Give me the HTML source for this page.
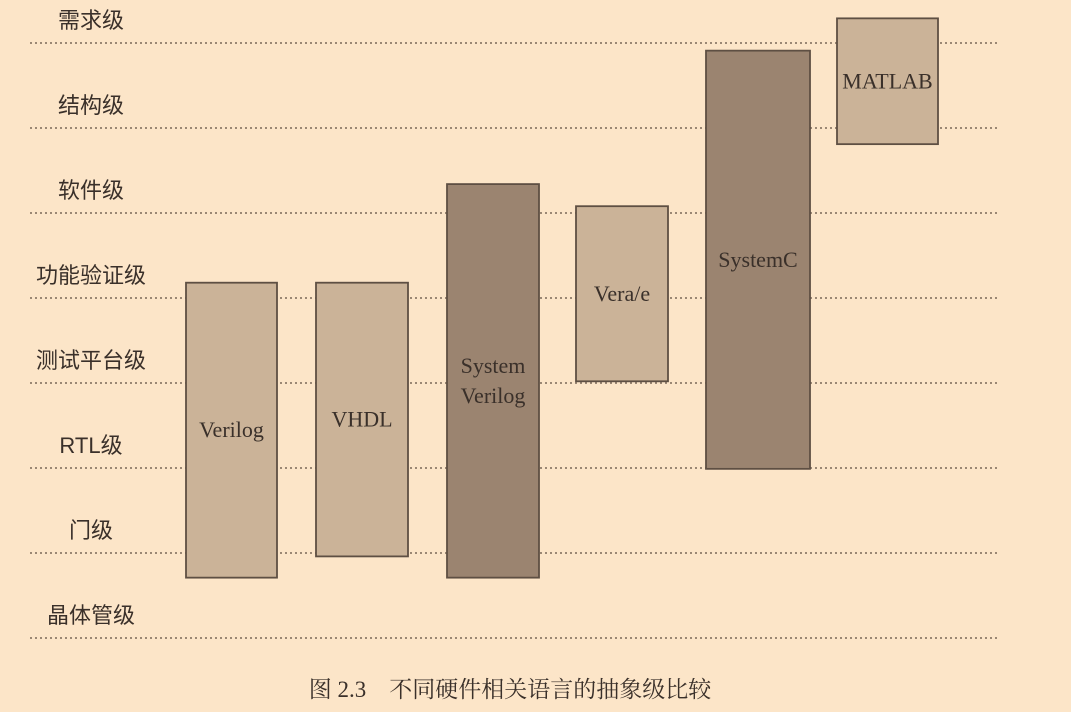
<!DOCTYPE html>
<html><head><meta charset="utf-8"><style>
body{margin:0;background:#fce5c8;}
svg{display:block}
text{font-family:"Liberation Serif","Noto Serif CJK SC",serif;fill:#3a302a}
</style></head><body>
<svg id="chart" width="1071" height="712" viewBox="0 0 1071 712">
<rect width="1071" height="712" fill="#fce5c8"/>
<g id="grid"></g><g id="bars"></g>
<text x="510" y="697" font-size="23" text-anchor="middle">图 2.3　不同硬件相关语言的抽象级比较</text>
</svg>
<script>
const levels=["需求级","结构级","软件级","功能验证级","测试平台级","RTL级","门级","晶体管级"];
const languages=["Verilog","VHDL","System\nVerilog","Vera/e","SystemC","MATLAB"];
const topLevel=[2.82,2.82,1.66,1.92,0.09,-0.29];
const bottomLevel=[6.29,6.04,6.29,3.98,5.01,1.19];
const shade=["light","light","dark","light","dark","light"];
const ns="http://www.w3.org/2000/svg";
function y(v){return 43+85*v;}
const xLeft=[186,316,447,576,706,837], xW=[91,92,92,92,104,101];
function x(i){return xLeft[i];}
const grid=document.getElementById('grid'),bars=document.getElementById('bars');
levels.forEach((l,i)=>{
 const ln=document.createElementNS(ns,'line');
 
 
 ln.setAttribute('x1',30);ln.setAttribute('x2',1000);ln.setAttribute('y1',y(i));ln.setAttribute('y2',y(i));
 ln.setAttribute('stroke','#7a6858');ln.setAttribute('stroke-width','1.5');ln.setAttribute('stroke-dasharray','2 3');
 grid.appendChild(ln);
 const t=document.createElementNS(ns,'text');
 
 
 t.setAttribute('x',91);t.setAttribute('y',y(i)-15);t.setAttribute('font-size','22');t.setAttribute('text-anchor','middle');
 t.setAttribute('style','font-family:"Liberation Sans","Noto Sans CJK SC",sans-serif');
 t.textContent=l;grid.appendChild(t);
});
languages.forEach((name,i)=>{
 const r=document.createElementNS(ns,'rect');
 
 
 const y0=y(topLevel[i]),y1=y(bottomLevel[i]);
 r.setAttribute('x',x(i));r.setAttribute('y',y0);r.setAttribute('width',xW[i]);r.setAttribute('height',y1-y0);
 r.setAttribute('fill',shade[i]=='dark'?'#9b8470':'#cbb398');r.setAttribute('stroke','#5e4f43');r.setAttribute('stroke-width','1.8');
 bars.appendChild(r);
 const lines=name.split('\n'),mid=(y0+y1)/2;
 lines.forEach((s,j)=>{
  const t=document.createElementNS(ns,'text');
  
  
  t.setAttribute('x',x(i)+xW[i]/2);t.setAttribute('y',mid+7+(j-(lines.length-1)/2)*30);
  t.setAttribute('font-size','22');t.setAttribute('text-anchor','middle');
  t.textContent=s;bars.appendChild(t);
 });
});
</script>
</body></html>
